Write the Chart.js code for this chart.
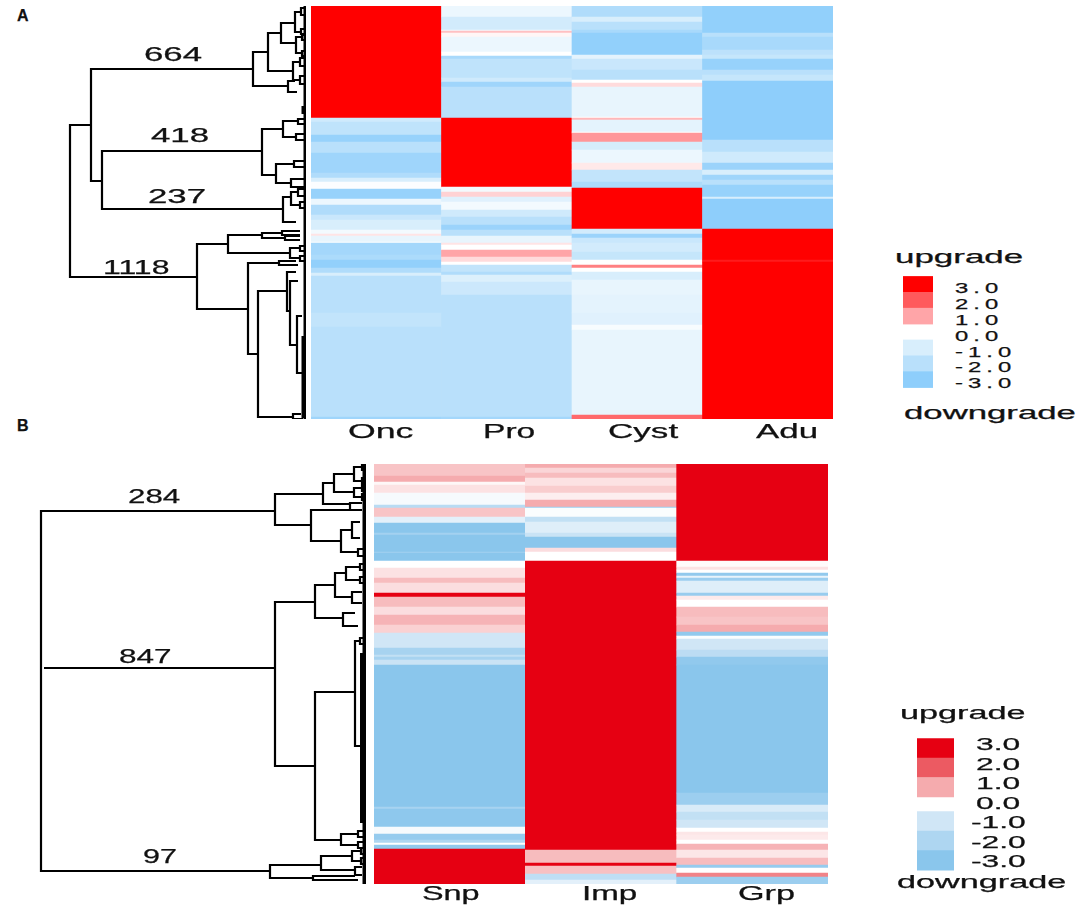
<!DOCTYPE html>
<html lang="en">
<head>
<meta charset="UTF-8"/>
<title>Heatmap clusters</title>
<style>
  html,body{margin:0;padding:0;background:#fff}
  #page{position:relative;width:1084px;height:912px;overflow:hidden}
  canvas{position:absolute;display:block;filter:blur(0.6px)}
  .lbl{position:absolute;white-space:nowrap;line-height:1;color:#111;font-family:"Liberation Sans",Arial,sans-serif;transform-origin:0 0;-webkit-text-stroke:0.25px #111}
</style>
<script src="https://cdn.jsdelivr.net/npm/chart.js@4/dist/chart.umd.min.js"></script>
</head>
<body>
<div id="page">
  <canvas id="heatA" width="522" height="413" style="left:311px;top:6px"></canvas>
  <canvas id="treeA" width="246" height="413" style="left:60px;top:6px"></canvas>
  <canvas id="keyA" width="30" height="127" style="left:903px;top:272px"></canvas>
  <canvas id="heatB" width="454" height="420" style="left:374px;top:464px"></canvas>
  <canvas id="treeB" width="336" height="420" style="left:30px;top:464px"></canvas>
  <canvas id="keyB" width="37" height="156" style="left:917px;top:725px"></canvas>
</div>
<script>
// categories
const colsA = ["Onc", "Pro", "Cyst", "Adu"];
const colsB = ["Snp", "Imp", "Grp"];

// heatmap bands, each one is [row where the band ends, z value]
const oncBands = [[112,3],[116,-1.3],[129,-1.8],[136,-2.8],[147,-2],[167,-2.6],[172,-2.2],[176,-1],[182,-0.1],[183,0],[193,-2.8],[199,-0.5],[209,-2.2],[214,-1.5],[224,-1],[228,-0.3],[230,0.3],[236,-0.6],[237,0],[249,-2.5],[254,-2.3],[262,-2.9],[267,-2.2],[270,-1],[307,-2],[321,-1.7],[411,-2],[413,-2.6]];
const proBands = [[11,-0.5],[24,-1.2],[25,-0.3],[27,0.7],[31,0.1],[46,-0.5],[50,0],[53,-2.4],[72,-1.8],[76,-1.3],[81,-2.6],[112,-2],[181,3],[186,-0.3],[191,0.5],[196,-0.8],[204,-0.3],[211,-1.3],[219,-2],[224,-2.7],[230,-2],[237,-0.6],[239,0.3],[244,0],[251,1],[256,0.4],[259,0],[266,-1.7],[269,-2.2],[276,-0.9],[289,-1.4],[411,-2],[413,-2.5]];
const cystBands = [[11,-2.2],[16,-1],[24,-2],[27,-2.4],[49,-2.9],[53,-0.7],[64,-1.5],[74,-2],[77,0],[81,0.4],[111,-0.6],[112,0],[114,0.8],[126,-0.7],[127,0],[136,1.2],[144,-1.1],[157,-0.5],[164,0.25],[176,-1.7],[182,-2.3],[223,3],[228,-1.2],[232,-2.7],[237,-1.5],[246,-1.2],[254,-1.6],[259,0],[262,1.5],[266,0],[274,-1],[289,-0.6],[307,-0.7],[319,-0.8],[324,-0.2],[409,-0.6],[413,1.8]];
const aduBands = [[27,-2.9],[31,-2],[44,-2.4],[49,-1.9],[53,-1.6],[64,-2.8],[69,-2],[75,-1.6],[134,-3],[146,-2],[157,-1.3],[164,-2.7],[169,-1],[174,-2.6],[179,-2],[191,-2.8],[193,-1],[223,-3],[254,3],[256,2.7],[413,3]];

const snpBands = [[12,0.7],[18,1],[21,0.1],[29,0.35],[41,-0.2],[44,-1.7],[53,0.7],[59,-0.6],[69,-3],[71,-2.3],[88,-3],[89,-2.3],[97,-3],[104,0],[114,0.35],[119,0.8],[129,0.4],[133,3],[143,0.8],[151,0.4],[161,0.9],[169,0.55],[184,-1],[191,-2.2],[193,-1.4],[196,-2.2],[201,-1.2],[343,-3],[345,-2.2],[363,-2.9],[370,-0.2],[376,-2.7],[379,-2],[381,0],[385,-2.8],[420,3]];
const impBands = [[4,1],[9,0.5],[14,0.8],[22,0.35],[29,0.6],[36,0.2],[43,1],[44,-2.5],[53,-0.1],[58,-1.4],[69,-0.7],[73,-1.2],[84,-3],[88,0.4],[97,0],[386,3],[399,0.8],[402,3],[410,0.75],[416,-1.5],[420,-0.6]];
const grpBands = [[97,3],[103,0.05],[106,0.35],[109,0],[112,-2.8],[114,-0.5],[117,-2.5],[129,-0.7],[132,-2.6],[136,0.25],[143,0],[153,0.8],[161,0.7],[168,1],[172,-2.8],[175,-0.1],[186,-1],[193,-1.6],[201,-2.8],[329,-3],[341,-2.5],[348,-0.8],[356,-1.4],[364,-1],[368,0],[371,0.3],[376,0.25],[380,0],[386,0.9],[394,0.3],[401,0.8],[404,-2.7],[409,0],[413,1.5],[420,-2.5]];

// colour scales, same order as zStops
const zStops = [-3,-2,-1,0,1,2,3];
const coloursA = ["#8ecefb","#b9e0fb","#d8eefc","#ffffff","#ffa5a8","#ff5a5c","#ff0000"];
const coloursB = ["#8ac6ec","#aed6f1","#d0e6f6","#ffffff","#f5abae","#ec5a62","#e60012"];

// dendrograms, each merge is [height, row1, child1 height, row2, child2 height]
const mergesA = [[236,119,215,271,109],[215,63,53,175,204],[204,145,44,203,23],[53,46,38,80,18],[38,27,25,65,13],[25,17,11,37,10],[11,6,5,26,5],[10,31,4,47,4],[13,56,6,74,6],[18,75,11,86,9],[44,123,23,169,30],[23,115,8,131,10],[30,158,12,177,15],[23,191,15,216,10],[15,186,8,199,6],[109,238,78,303,58],[78,229,44,247,16],[44,227,24,232,21],[16,242,6,252,6],[58,257,27,348,48],[27,255,10,259,8],[48,285,19,411,13],[19,266,10,305,16],[16,275,8,339,9],[9,310,4,367,3],[13,408,5,413,3],[5,2,1,9,1],[5,23,1,28,1],[4,29,1,34,1],[4,45,1,50,1],[6,52,1,60,1],[6,70,1,78,1],[8,113,1,118,1],[10,128,1,134,1],[12,155,1,161,1],[15,173,1,181,1],[8,183,1,190,1],[6,196,1,202,1],[24,225,6,229,6],[21,230,6,234,6],[6,240,1,245,1],[6,250,1,255,1]];
const mergesB = [[325,47,91,407,96],[322,204,322,204,91],[91,30,43,61,55],[43,19,32,40,16],[32,10,12,28,12],[12,3,4,17,4],[12,24,4,33,4],[16,39,4,46,4],[55,46,16,77,25],[25,66,14,88,8],[14,58,6,74,6],[8,85,3,92,3],[91,138,51,302,51],[51,121,31,154,23],[31,109,20,133,14],[20,103,6,116,6],[14,128,4,139,4],[23,149,11,162,8],[51,228,11,376,25],[11,177,6,282,5],[25,370,8,381,8],[96,401,45,414,53],[45,392,14,406,11],[14,387,5,397,5],[11,403,4,411,4],[53,412,11,416,8],[4,0,1,6,1],[4,14,1,20,1],[4,22,1,27,1],[4,30,1,36,1],[6,100,1,106,1],[6,113,1,119,1],[6,174,1,180,1],[8,367,1,373,1],[8,378,1,384,1],[5,384,1,390,1],[5,394,1,400,1]];
// leaf ends that run together, [height, first row, last row]
const spineA = [[1,0,413],[3,100,108],[3,330,412]];
const spineB = [[1.5,0,420],[4,189,359]];

// legend
const keyLevels = [3,2,1,-1,-2,-3];
const keyTicks = ["3.0","2.0","1.0","0.0","-1.0","-2.0","-3.0"];
const keyTickValues = [3,2,1,0,-1,-2,-3];

function hexRgb(h){
  return [1,3,5].map(i => parseInt(h.substr(i,2),16));
}

function zColour(z,colours){
  let i = 0;
  while(i < zStops.length-2 && z > zStops[i+1]) i++;
  const t = (z-zStops[i])/(zStops[i+1]-zStops[i]);
  const a = hexRgb(colours[i]), b = hexRgb(colours[i+1]);
  const c = a.map((v,k) => Math.round(v+(b[k]-v)*t));
  return "rgb("+c.join(",")+")";
}

function heatmap(id,cols,bandsPerCol,rows,colours){
  const points = [], fills = [];
  bandsPerCol.forEach((bands,c) => {
    let start = 0;
    bands.forEach(b => {
      points.push({x:cols[c],y:[start,b[0]]});
      fills.push(zColour(b[1],colours));
      start = b[0];
    });
  });
  return new Chart(document.getElementById(id),{
    type:"bar",
    data:{labels:cols,datasets:[{data:points,backgroundColor:fills,borderWidth:0,grouped:false,categoryPercentage:1,barPercentage:1}]},
    options:{
      responsive:false,animation:false,
      plugins:{legend:{display:false},tooltip:{enabled:false}},
      scales:{
        x:{display:false},
        y:{display:false,reverse:true,min:0,max:rows}
      }
    }
  });
}

function tree(id,merges,spine,rows,maxHeight,lw,spineLw){
  const lines = [];
  merges.forEach(m => {
    lines.push({x:m[2],y:m[1]},{x:m[0],y:m[1]},{x:m[0],y:m[3]},{x:m[4],y:m[3]},{x:NaN,y:NaN});
  });
  const ends = [];
  spine.forEach(s => {
    ends.push({x:s[0],y:s[1]},{x:s[0],y:s[2]},{x:NaN,y:NaN});
  });
  return new Chart(document.getElementById(id),{
    type:"scatter",
    data:{datasets:[
      {data:lines,showLine:true,pointRadius:0,borderColor:"#000",borderWidth:lw,clip:false,spanGaps:false},
      {data:ends,showLine:true,pointRadius:0,borderColor:"#000",borderWidth:spineLw,clip:false,spanGaps:false}
    ]},
    options:{
      responsive:false,animation:false,
      plugins:{legend:{display:false},tooltip:{enabled:false}},
      scales:{
        x:{display:false,reverse:true,min:0,max:maxHeight},
        y:{display:false,reverse:true,min:0,max:rows}
      }
    }
  });
}

function colourKey(id,colours,upTop,downTop){
  const points = keyLevels.map(v => {
    const top = v+(v > 0 ? upTop : downTop);
    return {x:"z",y:[top-1,top]};
  });
  return new Chart(document.getElementById(id),{
    type:"bar",
    data:{labels:["z"],datasets:[{data:points,backgroundColor:keyLevels.map(v => zColour(v,colours)),borderWidth:0,grouped:false,categoryPercentage:1,barPercentage:1}]},
    options:{
      responsive:false,animation:false,
      plugins:{legend:{display:false},tooltip:{enabled:false}},
      scales:{
        x:{display:false},
        y:{display:false,min:-4,max:4}
      }
    }
  });
}

// text is stretched sideways in the figure, so it is plain text with a scaleX
function label(text,left,capTop,size,sx,extra){
  const d = document.createElement("div");
  d.className = "lbl";
  d.textContent = text;
  d.style.left = left+"px";
  d.style.top = (capTop-size*0.13)+"px";
  d.style.fontSize = size+"px";
  d.style.transform = "scaleX("+sx+")";
  if(extra) Object.assign(d.style,extra);
  document.getElementById("page").appendChild(d);
  return d;
}

heatmap("heatA",colsA,[oncBands,proBands,cystBands,aduBands],413,coloursA);
heatmap("heatB",colsB,[snpBands,impBands,grpBands],420,coloursB);
tree("treeA",mergesA,spineA,413,246,2.2,3);
tree("treeB",mergesB,spineB,420,336,2.2,4);
const keyA = colourKey("keyA",coloursA,0.72,0.72);
const keyB = colourKey("keyB",coloursB,0.31,0.56);

// panel letters
label("A",17,10,16,1,{fontWeight:"bold"});
label("B",17,420,16,1,{fontWeight:"bold"});

// cluster sizes
label("664",144,47,20,1.74);
label("418",151,128,20,1.74);
label("237",148,189,20,1.74);
label("1118",103,260,20,1.6);
label("284",128,488,21,1.49);
label("847",119,648,21,1.5);
label("97",143,848,21,1.45);

// column names
label(colsA[0],348,423,21,1.7);
label(colsA[1],483,423,21,1.6);
label(colsA[2],608,423,21,1.67);
label(colsA[3],756,423,21,1.66);
label(colsB[0],422,887,19.5,1.66);
label(colsB[1],582,887,19.5,1.7);
label(colsB[2],738,887,19.5,1.75);

// legends
label("upgrade",895,250,18,1.94);
label("downgrade",904,406,18,1.93);
label("upgrade",900,706,18,1.9);
label("downgrade",897,875,18,1.9);

keyTicks.forEach((t,i) => {
  const yA = 272+keyA.scales.y.getPixelForValue(keyTickValues[i]);
  label(t,955,yA-5,14,1.7,{letterSpacing:"3px"});
  const yB = 725+keyB.scales.y.getPixelForValue(keyTickValues[i]);
  const d = label(t,0,yB-6,17,1.87);
  d.style.left = (998-d.offsetWidth*1.87/2)+"px";
});
</script>
</body>
</html>
